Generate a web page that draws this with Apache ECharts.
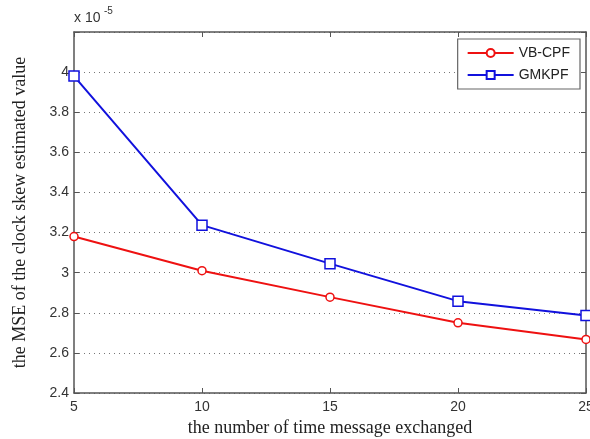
<!DOCTYPE html>
<html>
<head>
<meta charset="utf-8">
<script src="https://cdn.jsdelivr.net/npm/echarts@6/dist/echarts.min.js"></script>
<style>
html,body{margin:0;padding:0;background:#fff;}
#chart{width:590px;height:439px;}
</style>
</head>
<body>
<div id="chart"></div>
<script>
const xValues = [5, 10, 15, 20, 25];
const vbcpf = [3.18, 3.01, 2.878, 2.75, 2.667];
const gmkpf = [3.98, 3.237, 3.045, 2.858, 2.786];
const seriesNames = ['VB-CPF', 'GMKPF'];

const chart = echarts.init(document.getElementById('chart'), null, {renderer: 'canvas'});
const toPairs = (ys) => xValues.map((x, i) => [x, ys[i]]);
const axisColor = '#555';
const labelFont = {color: '#333', fontFamily: 'Liberation Sans', fontSize: 14};

chart.setOption({
  animation: false,
  backgroundColor: '#fff',
  grid: {left: 74, right: 4, top: 32, bottom: 46, show: false, containLabel: false, outerBoundsMode: 'none'},
  legend: {
    data: seriesNames,
    orient: 'vertical',
    right: 10, top: 39,
    backgroundColor: '#fff',
    borderColor: '#666', borderWidth: 1.2,
    padding: [7, 10, 7, 9],
    itemGap: 8,
    itemWidth: 46, itemHeight: 10,
    textStyle: {fontFamily: 'Liberation Sans', fontSize: 14, color: '#222'}
  },
  graphic: [{
    type: 'text', left: 74, top: 11,
    style: {text: 'x 10', font: '14px "Liberation Sans"', fill: '#333'}
  }, {
    type: 'text', left: 104, top: 6,
    style: {text: '-5', font: '10px "Liberation Sans"', fill: '#333'}
  }],
  xAxis: [{
    type: 'value', min: 5, max: 25, interval: 5,
    name: 'the number of time message exchanged',
    nameLocation: 'middle', nameGap: 26,
    nameTextStyle: {fontFamily: 'Liberation Serif', fontSize: 18, color: '#222'},
    axisLine: {show: true, onZero: false, lineStyle: {color: axisColor, width: 1.5}},
    axisTick: {show: true, inside: true, length: 5, lineStyle: {color: axisColor}},
    axisLabel: Object.assign({margin: 7}, labelFont),
    splitLine: {show: false}
  }, {
    type: 'value', min: 5, max: 25, interval: 5, position: 'top',
    axisLine: {show: true, onZero: false, lineStyle: {color: axisColor, width: 1.5}},
    axisTick: {show: true, inside: true, length: 5, lineStyle: {color: axisColor}},
    axisLabel: {show: false},
    splitLine: {show: false}
  }],
  yAxis: [{
    type: 'value', min: 2.4, max: 4.2, interval: 0.2,
    name: 'the MSE of the clock skew estimated value',
    nameLocation: 'middle', nameGap: 45, nameRotate: 90,
    nameTextStyle: {fontFamily: 'Liberation Serif', fontSize: 18, color: '#222'},
    axisLine: {show: true, onZero: false, lineStyle: {color: axisColor, width: 1.5}},
    axisTick: {show: true, inside: true, length: 5, lineStyle: {color: axisColor}},
    axisLabel: Object.assign({margin: 5, formatter: (v) => (Math.abs(v - 4.2) < 1e-6 ? '' : String(+v.toFixed(1)))}, labelFont),
    splitLine: {show: true, lineStyle: {color: '#777', type: [1, 4], width: 1}}
  }, {
    type: 'value', min: 2.4, max: 4.2, interval: 0.2, position: 'right',
    axisLine: {show: true, onZero: false, lineStyle: {color: axisColor, width: 1.5}},
    axisTick: {show: true, inside: true, length: 5, lineStyle: {color: axisColor}},
    axisLabel: {show: false},
    splitLine: {show: false}
  }],
  series: [{
    name: seriesNames[0], type: 'line', data: toPairs(vbcpf),
    symbol: 'circle', symbolSize: 8, showAllSymbol: true,
    lineStyle: {color: '#ee1111', width: 2},
    itemStyle: {color: '#fff', borderColor: '#ee1111', borderWidth: 1.5},
    z: 3
  }, {
    name: seriesNames[1], type: 'line', data: toPairs(gmkpf),
    symbol: 'rect', symbolSize: 10, showAllSymbol: true,
    lineStyle: {color: '#1111dd', width: 2},
    itemStyle: {color: '#fff', borderColor: '#1111dd', borderWidth: 1.5},
    z: 4
  }]
});
</script>
</body>
</html>
